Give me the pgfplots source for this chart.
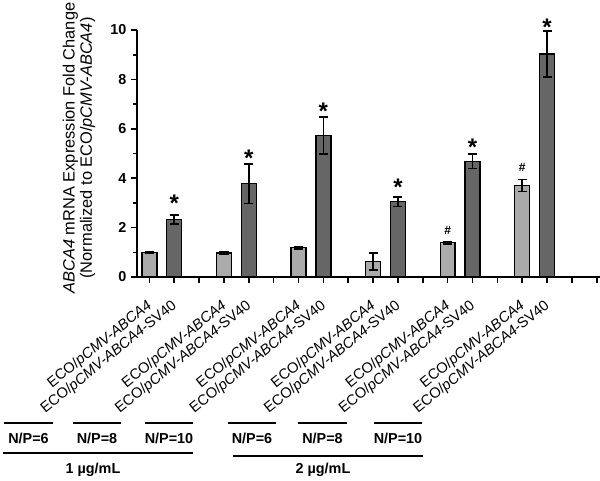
\documentclass[border=0pt]{standalone}
\usepackage{pgfplots}
\usepackage{pgfplotstable}
\pgfplotsset{compat=1.18}
\usepackage{fontspec}
\setmainfont{Liberation Sans}
\definecolor{lightbar}{RGB}{170,170,170}
\definecolor{darkbar}{RGB}{102,102,102}
\pgfplotstableread{
x y e
0 1.00 0.02
3 0.97 0.05
6 1.19 0.05
9 0.62 0.34
12 1.39 0.05
15 3.70 0.24
}\lighttab
\pgfplotstableread{
x y e
1 2.32 0.18
4 3.78 0.80
7 5.73 0.75
10 3.05 0.19
13 4.68 0.29
16 9.03 0.94
}\darktab
\newcommand{\fA}{ECO/\textit{pCMV-ABCA4}}
\newcommand{\fB}{ECO/\textit{pCMV-ABCA4}-SV40}
\begin{document}
\begin{tikzpicture}[x=0.75pt,y=0.75pt]
\useasboundingbox (0,0) rectangle (600,480);
\begin{axis}[
  at={(102.75pt,152.25pt)}, anchor=south west,
  scale only axis, width=347.25pt, height=185.25pt,
  xmin=-0.5, xmax=18.13, ymin=0, ymax=10,
  axis x line=bottom, axis y line=left,
  axis line style={line width=1.5pt,-},
  tick style={line width=1.2pt,black},
  tick align=outside, major tick length=4.5pt, minor tick length=3pt,
  ytick={0,2,...,10}, minor ytick={1,3,5,7,9},
  xtick={0,...,18},
  xticklabels={\fA,\fB,,\fA,\fB,,\fA,\fB,,\fA,\fB,,\fA,\fB,,\fA,\fB,,},
  xticklabel style={xshift=3.2pt, yshift=-13.5pt, rotate=39, anchor=east, font=\fontsize{11}{13}\selectfont},
  yticklabel style={font=\bfseries\fontsize{10.8}{13}\selectfont},
  /pgf/number format/assume math mode=true,
  clip=false,
]
\addplot[ybar, bar width=0.6, bar shift=0pt, fill=lightbar, draw=black, line width=1pt,
  error bars/.cd, y dir=both, y explicit,
  error bar style={line width=1.2pt,black},
  error mark options={rotate=90,line width=1.2pt,mark size=3.4pt,black}]
  table[x=x,y=y,y error=e]{\lighttab};
\addplot[ybar, bar width=0.6, bar shift=0pt, fill=darkbar, draw=black, line width=1pt,
  error bars/.cd, y dir=both, y explicit,
  error bar style={line width=1.2pt,black},
  error mark options={rotate=90,line width=1.2pt,mark size=3.4pt,black}]
  table[x=x,y=y,y error=e]{\darktab};
\begin{scope}[every node/.style={font=\bfseries\fontsize{18}{18}\selectfont, yshift=-3.6pt, inner sep=0pt}]
\node at (axis cs:1,3.20) {*};
\node at (axis cs:4,5.02) {*};
\node at (axis cs:7,6.92) {*};
\node at (axis cs:10,3.81) {*};
\node at (axis cs:13,5.43) {*};
\node at (axis cs:16,10.32) {*};
\end{scope}
\node[font=\bfseries\fontsize{9}{9}\selectfont, inner sep=0pt] at (axis cs:12,1.90) {\#};
\node[font=\bfseries\fontsize{9}{9}\selectfont, inner sep=0pt] at (axis cs:15,4.45) {\#};
\end{axis}
\node[rotate=90, align=center, font=\fontsize{12.3}{13}\selectfont] at (79,332)
  {\textit{ABCA4} mRNA Expression Fold Change\\(Normalized to ECO/\textit{pCMV-ABCA4})};
\begin{scope}[line width=1.5pt]
\draw (4,57) -- (53,57);
\draw (73,57) -- (121,57);
\draw (145,57) -- (193,57);
\draw (228,57) -- (276,57);
\draw (298,57) -- (347,57);
\draw (374,57) -- (422,57);
\draw (3,27) -- (193,27);
\draw (233,24) -- (423,24);
\end{scope}
\begin{scope}[every node/.style={font=\bfseries\fontsize{10.8}{13}\selectfont}]
\node at (28.5,42) {N/P=6};
\node at (97,42) {N/P=8};
\node at (169,42) {N/P=10};
\node at (252,42) {N/P=6};
\node at (322.5,42) {N/P=8};
\node at (398,42) {N/P=10};
\node at (93,10) {1 µg/mL};
\node at (323,10) {2 µg/mL};
\end{scope}
\end{tikzpicture}
\end{document}
